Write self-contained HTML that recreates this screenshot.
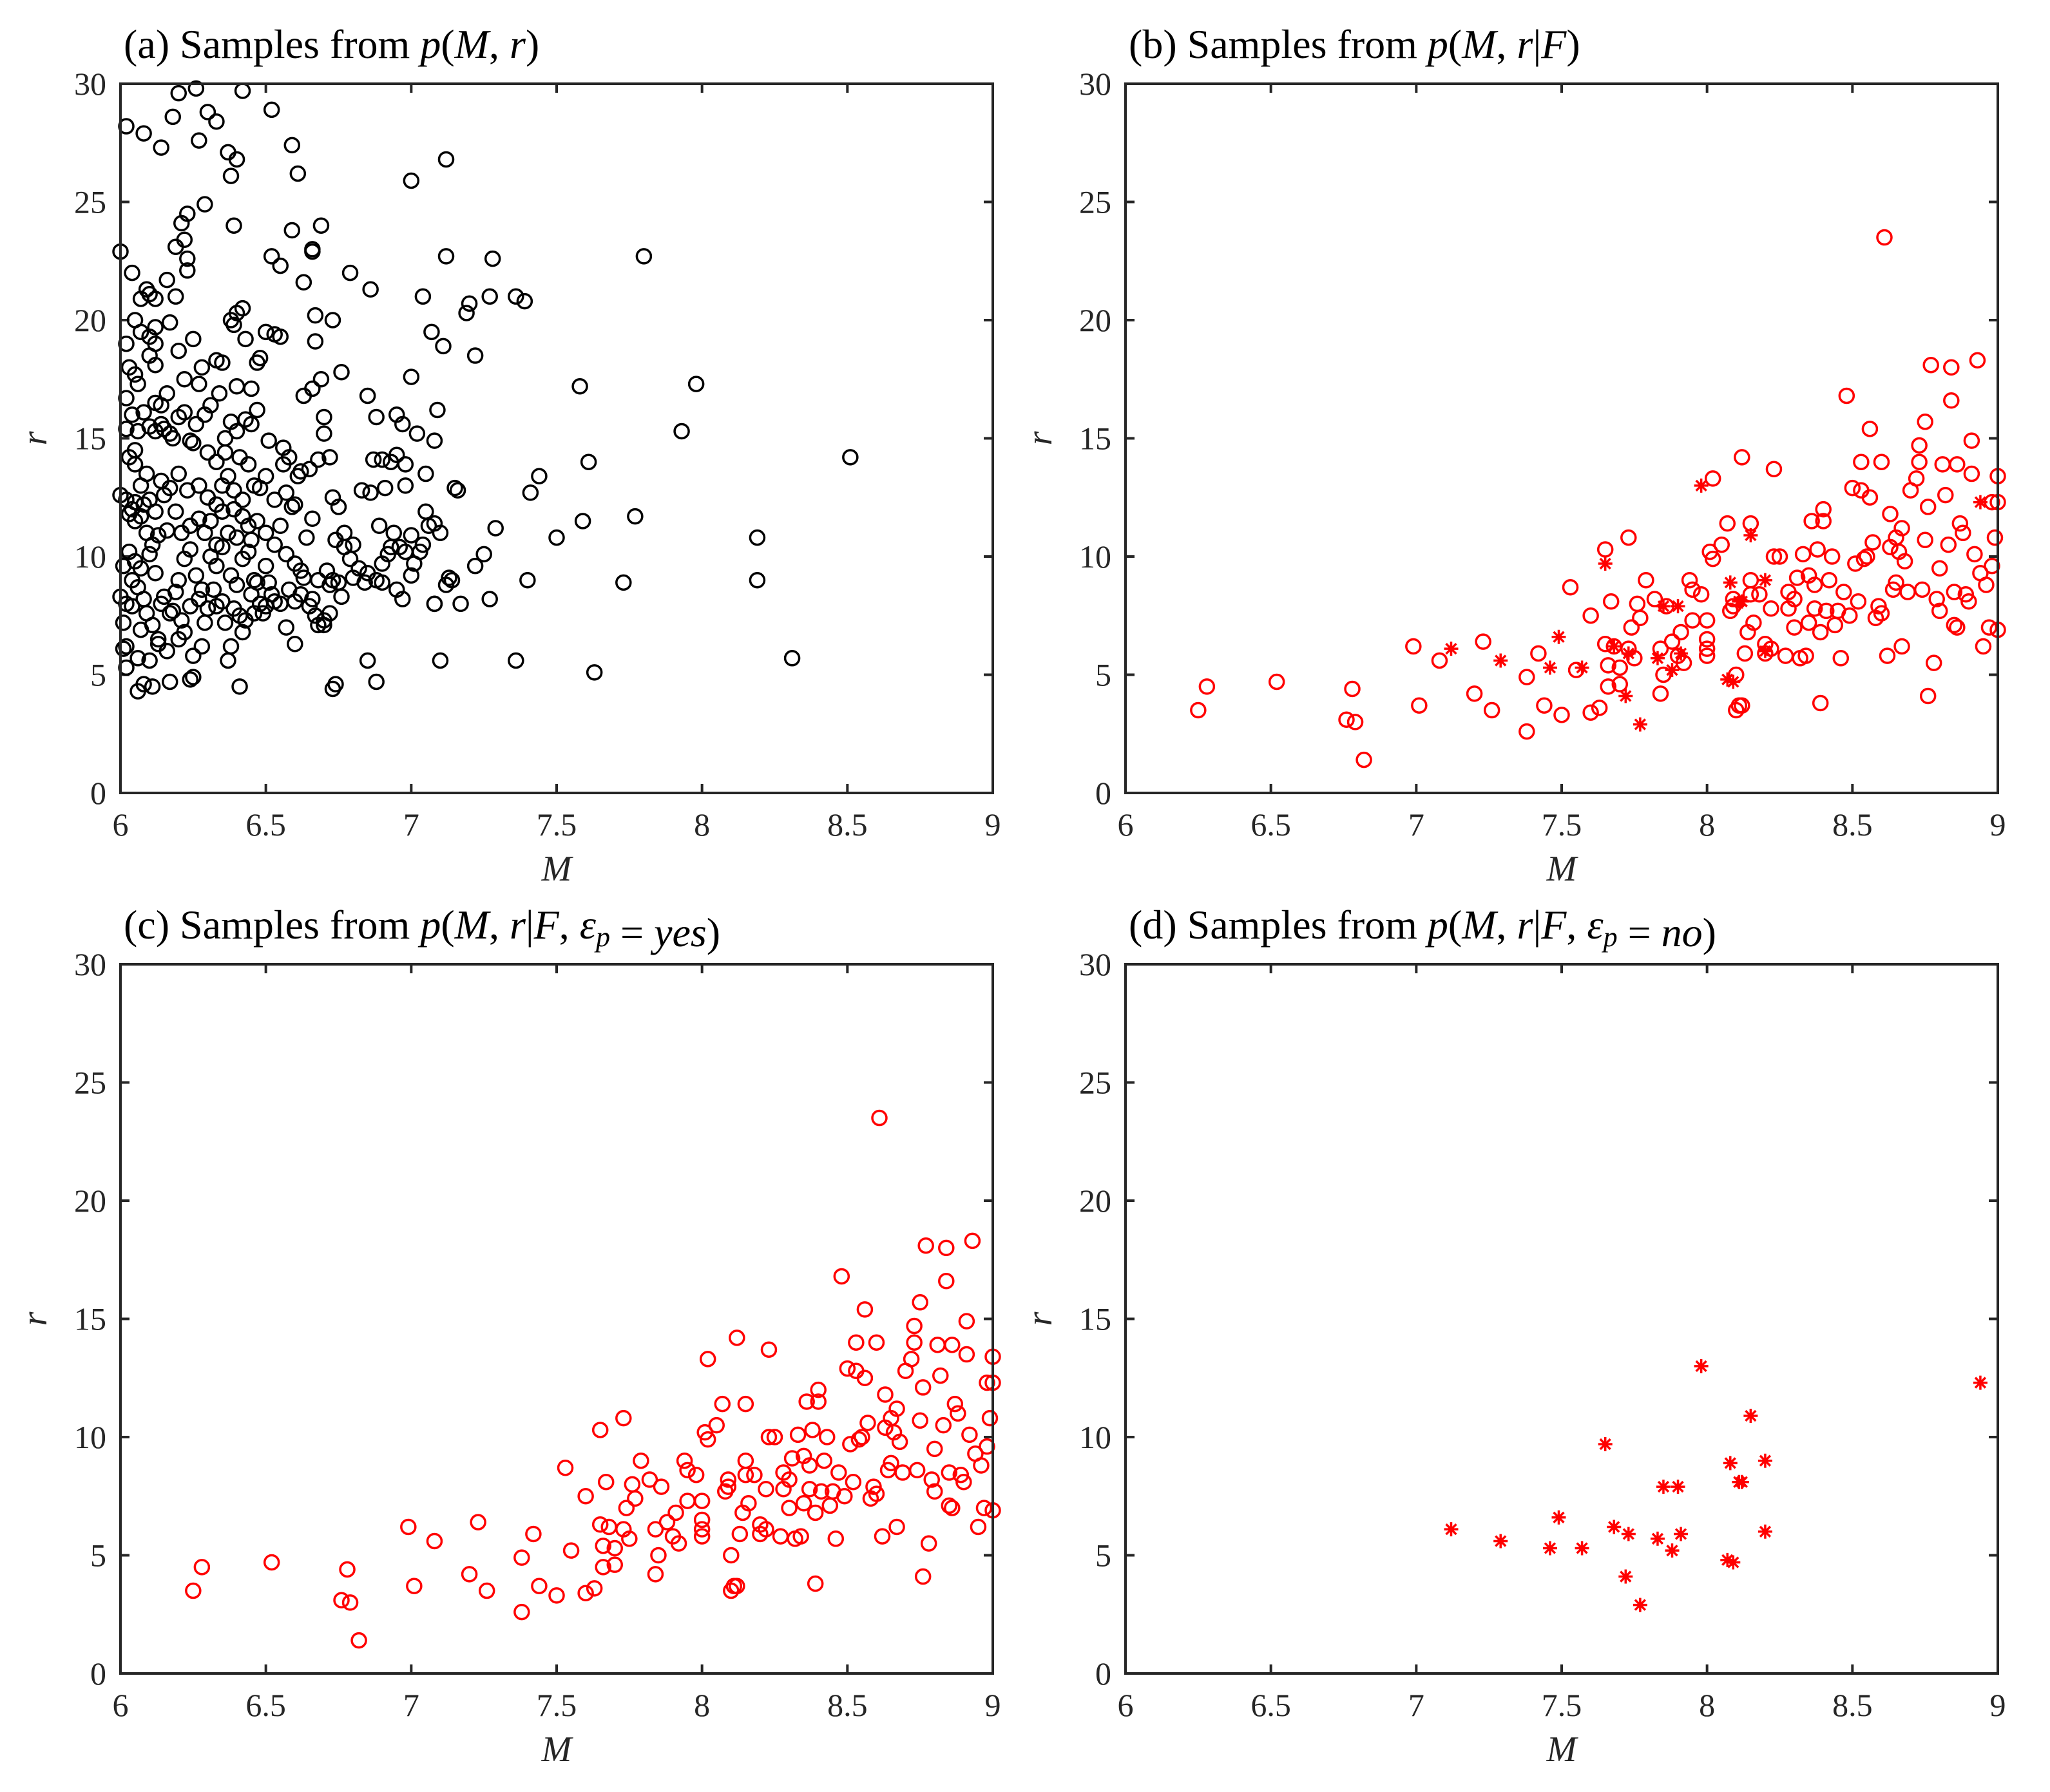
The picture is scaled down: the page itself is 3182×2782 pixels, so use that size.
<!DOCTYPE html>
<html><head><meta charset="utf-8"><style>
html,body{margin:0;padding:0;background:#fff;}
svg{display:block;font-family:"Liberation Serif",serif;}
</style></head><body>
<svg id="fig" width="3182" height="2782" viewBox="0 0 3182 2782" xmlns="http://www.w3.org/2000/svg"></svg>
<script>
const xTicks=[6,6.5,7,7.5,8,8.5,9];
const yTicks=[0,5,10,15,20,25,30];
const xTickLabels=["6","6.5","7","7.5","8","8.5","9"];
const yTickLabels=["0","5","10","15","20","25","30"];
const priorM=[6.0,6.02,6.08,6.14,6.18,6.2,6.26,6.27,6.3,6.33,6.37,6.4,6.38,6.42,6.52,6.59,6.61,7.0,7.12,6.23,6.21,6.29,6.19,6.22,6.39,6.59,6.66,6.66,6.69,6.52,6.55,6.23,6.23,6.16,6.04,6.09,6.1,6.12,6.07,6.02,6.05,6.07,6.1,6.12,6.17,6.19,6.12,6.25,6.63,6.67,6.73,6.79,6.86,7.04,7.12,7.28,7.2,7.27,7.36,7.39,7.8,7.07,7.11,7.19,7.22,6.38,6.4,6.42,6.43,6.39,6.47,6.5,6.53,6.55,6.67,6.1,6.12,6.05,6.03,6.2,6.28,6.33,6.35,6.4,6.45,6.48,6.22,6.27,6.16,6.14,6.08,6.04,6.02,6.06,6.1,6.12,6.14,6.15,6.17,6.2,6.24,6.22,6.25,6.3,6.33,6.36,6.38,6.4,6.43,6.45,6.47,6.51,6.56,6.58,6.63,6.66,6.69,6.7,6.7,6.76,6.85,6.88,6.95,6.97,7.0,7.02,7.08,7.09,6.9,6.93,6.95,6.87,6.98,7.05,7.15,7.58,7.61,7.98,7.93,8.51,7.44,7.41,7.59,7.77,6.0,6.02,6.04,6.05,6.03,6.08,6.1,6.12,6.15,6.17,6.07,6.05,6.03,6.05,6.09,6.14,6.2,6.23,6.27,6.3,6.33,6.35,6.37,6.39,6.42,6.44,6.47,6.5,6.53,6.57,6.6,6.62,6.65,6.68,6.72,6.73,6.75,6.77,6.8,6.83,6.86,6.89,6.91,6.93,6.98,7.0,7.05,7.08,7.04,7.1,7.0,7.08,7.12,7.14,7.17,7.22,7.25,7.29,7.27,7.4,7.5,7.73,8.19,8.19,8.31,7.36,7.1,7.63,6.88,6.73,6.74,6.85,6.41,6.24,6.25,6.17,6.11,6.06,6.08,6.02,6.01,6.02,6.06,6.1,6.13,6.16,6.2,6.22,6.25,6.28,6.3,6.33,6.36,6.38,6.37,6.42,6.46,6.5,6.52,6.55,6.57,6.6,6.62,6.66,6.68,6.7,6.72,6.76,6.8,6.85,6.88,6.9,6.95,6.97,7.08,6.0,6.02,6.05,6.03,6.07,6.1,6.12,6.14,6.17,6.19,6.2,6.22,6.24,6.26,6.28,6.31,6.33,6.35,6.37,6.38,6.4,6.42,6.44,6.46,6.48,6.5,6.53,6.55,6.57,6.6,6.62,6.64,6.66,6.68,6.71,6.74,6.77,6.01,6.04,6.07,6.09,6.11,6.13,6.15,6.18,6.21,6.24,6.27,6.29,6.32,6.35,6.39,6.41,6.43,6.45,6.47,6.49,6.51,6.53,6.58,6.6,6.63,6.65,6.67,6.7,6.72,6.73,6.75,6.79,6.82,6.84,6.9,6.92,6.94,6.96,6.98,7.01,7.03,7.13,7.16,7.06,6.02,6.06,6.12,6.18,6.26,6.29,6.31,6.34,6.36,6.41,6.44,6.46,6.48,6.5,6.56,6.59,6.61,6.31,6.29,6.27,6.24,6.21,6.19,6.16,6.13,6.11,6.09,6.07,6.05,6.33,6.35,6.39,6.42,6.45,6.4,6.06,6.08,6.04,6.01];
const priorR=[22.9,28.2,27.9,27.3,28.6,29.6,29.8,27.6,28.8,28.4,27.1,26.8,26.1,29.7,28.9,27.4,26.2,25.9,26.8,24.5,24.1,24.9,23.1,23.4,24.0,23.8,23.0,22.9,24.0,22.7,22.3,22.6,22.1,21.7,22.0,21.3,21.1,20.9,20.9,19.0,20.0,19.5,19.3,19.7,19.9,21.0,19.0,19.2,21.6,20.2,20.0,22.0,21.3,21.0,22.7,22.6,20.7,21.0,21.0,20.8,22.7,19.5,18.9,20.3,18.5,20.0,20.3,20.5,19.2,19.8,18.2,19.5,19.4,19.3,19.1,18.5,18.1,17.7,18.0,18.7,18.0,18.3,18.2,17.2,17.1,18.4,17.5,17.3,16.9,16.4,16.1,16.0,15.4,15.3,15.5,15.3,15.6,15.4,15.2,15.9,14.9,16.1,14.8,14.4,14.0,15.0,15.7,15.3,15.8,15.6,16.2,14.9,14.6,14.2,16.8,17.1,17.5,15.9,15.2,17.8,16.8,15.9,16.0,15.6,17.6,15.2,14.9,16.2,14.1,14.0,14.3,14.1,13.9,13.5,12.9,17.2,14.0,17.3,15.3,14.2,13.4,12.7,11.5,11.7,12.6,12.4,12.0,11.5,11.8,12.2,12.4,11.9,12.6,12.9,13.0,13.9,14.2,14.5,13.5,13.2,13.5,12.8,13.0,12.5,12.2,13.0,13.4,12.8,12.4,11.3,11.5,11.0,12.4,12.7,12.2,13.6,13.7,14.1,14.2,12.5,12.1,11.0,10.5,12.8,12.7,11.3,12.9,10.4,13.0,10.9,11.9,11.4,10.5,11.0,9.2,8.0,8.8,9.0,8.0,9.6,10.1,11.2,8.2,9.0,10.8,8.9,10.8,9.0,5.7,5.6,5.6,5.1,4.7,4.4,4.6,5.6,4.5,4.8,4.9,4.7,4.5,4.3,4.6,5.3,6.1,6.2,5.7,5.6,6.3,6.0,6.5,6.8,5.8,6.2,7.8,7.9,7.2,6.2,5.6,6.8,7.6,7.9,8.4,8.0,7.0,6.3,8.4,8.2,7.1,7.3,8.8,8.3,9.1,9.3,9.0,8.9,8.6,8.2,8.0,8.3,8.0,9.8,10.2,9.5,10.1,9.3,8.0,7.6,8.5,9.0,9.9,10.3,9.2,8.6,10.0,9.6,10.4,11.0,9.2,8.8,9.9,10.2,9.0,8.0,9.6,10.5,11.3,10.1,9.7,9.4,10.8,11.6,9.0,9.4,10.7,10.4,7.2,7.9,6.9,7.6,7.1,6.5,8.3,7.7,7.3,7.9,8.2,7.2,8.6,8.1,7.8,7.5,7.3,8.4,8.9,7.6,8.9,8.1,8.6,8.1,9.1,7.9,7.5,7.1,7.6,9.0,8.9,9.9,9.5,8.9,9.7,10.1,11.0,10.4,10.2,9.7,10.2,9.1,12.8,11.3,16.7,17.3,16.5,15.0,15.6,16.0,16.4,16.9,14.4,14.2,13.9,13.0,12.9,13.4,13.9,12.1,13.4,11.5,11.0,11.6,11.3,11.0,11.9,11.1,10.9,10.5,11.0,11.7,12.3,10.5,11.9,12.0,11.7,10.7,10.8,8.7,8.2,9.0,9.6];
const yesM=[6.25,6.28,6.52,6.76,6.78,6.79,6.82,6.99,7.01,7.08,7.2,7.23,7.26,7.38,7.38,7.42,7.44,7.5,7.53,7.55,7.6,7.6,7.63,7.65,7.65,7.66,7.66,7.67,7.68,7.7,7.7,7.73,7.73,7.74,7.75,7.76,7.77,7.79,7.82,7.84,7.84,7.85,7.86,7.88,7.9,7.91,7.92,7.94,7.95,7.95,7.98,8.0,8.0,8.0,8.0,8.01,8.02,8.02,8.05,8.07,8.08,8.09,8.09,8.1,8.1,8.11,8.12,8.12,8.13,8.14,8.15,8.15,8.15,8.16,8.18,8.2,8.2,8.22,8.22,8.23,8.23,8.25,8.27,8.28,8.28,8.3,8.3,8.31,8.32,8.33,8.34,8.35,8.35,8.36,8.37,8.37,8.38,8.39,8.39,8.4,8.4,8.41,8.42,8.43,8.44,8.45,8.46,8.47,8.48,8.49,8.5,8.51,8.52,8.53,8.53,8.54,8.55,8.56,8.56,8.57,8.58,8.59,8.6,8.6,8.61,8.62,8.63,8.63,8.64,8.65,8.65,8.66,8.67,8.67,8.68,8.69,8.7,8.72,8.73,8.73,8.74,8.75,8.75,8.76,8.76,8.77,8.78,8.79,8.8,8.8,8.81,8.82,8.83,8.84,8.84,8.85,8.85,8.86,8.86,8.87,8.88,8.89,8.9,8.91,8.91,8.92,8.93,8.94,8.95,8.96,8.97,8.98,8.98,8.99,9.0,9.0,9.0];
const yesR=[3.5,4.5,4.7,3.1,4.4,3.0,1.4,6.2,3.7,5.6,4.2,6.4,3.5,2.6,4.9,5.9,3.7,3.3,8.7,5.2,3.4,7.5,3.6,10.3,6.3,5.4,4.5,8.1,6.2,5.3,4.6,10.8,6.1,7.0,5.7,8.0,7.4,9.0,8.2,6.1,4.2,5.0,7.9,6.4,5.8,6.8,5.5,9.0,8.6,7.3,8.4,5.8,6.1,7.3,6.5,10.2,9.9,13.3,10.5,11.4,7.7,8.2,7.9,5.0,3.5,3.7,3.7,14.2,5.9,6.8,8.4,9.0,11.4,7.2,8.4,5.9,6.3,6.1,7.8,13.7,10.0,10.0,5.8,8.5,7.8,8.2,7.0,9.1,5.7,10.1,5.8,9.2,7.2,11.5,8.8,7.8,10.3,6.8,3.8,12.0,11.5,7.7,9.0,10.0,7.1,7.7,5.7,8.5,16.8,7.5,12.9,9.7,8.1,12.8,14.0,9.9,10.0,15.4,12.5,10.6,7.4,7.9,14.0,7.6,23.5,5.8,10.4,11.8,8.6,10.8,8.9,10.2,6.2,11.2,9.8,8.5,12.8,13.3,14.0,14.7,8.6,15.7,10.7,12.1,4.1,18.1,5.5,8.2,7.7,9.5,13.9,12.6,10.5,18.0,16.6,8.5,7.1,13.9,7.0,11.4,11.0,8.4,8.1,13.5,14.9,10.1,18.3,9.3,6.2,8.8,7.0,12.3,9.6,10.8,13.4,6.9,12.3];
const noM=[7.12,7.29,7.46,7.49,7.57,7.65,7.68,7.72,7.73,7.77,7.83,7.85,7.88,7.9,7.91,7.98,8.07,8.09,8.08,8.11,8.12,8.15,8.2,8.2,8.94];
const noR=[6.1,5.6,5.3,6.6,5.3,9.7,6.2,4.1,5.9,2.9,5.7,7.9,5.2,7.9,5.9,13.0,4.8,4.7,8.9,8.1,8.1,10.9,9.0,6.0,12.3];

const NS="http://www.w3.org/2000/svg";
const svg=document.getElementById('fig');
function mk(tag,attrs,parent){const e=document.createElementNS(NS,tag);for(const k in attrs)e.setAttribute(k,attrs[k]);(parent||svg).appendChild(e);return e;}

const W=1354,H=1101;
const panels=[
 {x0:187,y0:130,id:'a',title:[['(a) Samples from ',''],['p','i'],['(',''],['M','i'],[', ',''],['r','i'],[')','']]},
 {x0:1747,y0:130,id:'b',title:[['(b) Samples from ',''],['p','i'],['(',''],['M','i'],[', ',''],['r','i'],['|',''],['F','i'],[')','']]},
 {x0:187,y0:1497,id:'c',title:[['(c) Samples from ',''],['p','i'],['(',''],['M','i'],[', ',''],['r','i'],['|',''],['F','i'],[', ',''],['ε','i'],['p','s'],[' = ',''],['yes','i'],[')','']]},
 {x0:1747,y0:1497,id:'d',title:[['(d) Samples from ',''],['p','i'],['(',''],['M','i'],[', ',''],['r','i'],['|',''],['F','i'],[', ',''],['ε','i'],['p','s'],[' = ',''],['no','i'],[')','']]}
];

function drawCircles(g,P,ms,rs,color,name){
  for(let i=0;i<ms.length;i++){
    const c=mk('circle',{cx:P.sx(ms[i]),cy:P.sy(rs[i]),r:11,fill:'none',stroke:color,'stroke-width':3.5},g);
    
    
  }
}
function drawStars(g,P,ms,rs,color,name){
  for(let i=0;i<ms.length;i++){
    const x=P.sx(ms[i]),y=P.sy(rs[i]),s=11;
    const st=mk('path',{d:`M${x-s} ${y}H${x+s}M${x} ${y-s}V${y+s}M${x-s*0.72} ${y-s*0.72}L${x+s*0.72} ${y+s*0.72}M${x-s*0.72} ${y+s*0.72}L${x+s*0.72} ${y-s*0.72}`,stroke:color,'stroke-width':3.5,fill:'none'},g);
    
    
  }
}

panels.forEach(p=>{
  const g=mk('g',{});
  
  
  const P={sx:v=>p.x0+(v-6)/3*W, sy:v=>p.y0+H-(v/30)*H};
  xTicks.forEach((t,i)=>{
    const x=P.sx(t);
    mk('line',{x1:x,x2:x,y1:p.y0+H,y2:p.y0+H-14,stroke:'#262626','stroke-width':4},g);
    mk('line',{x1:x,x2:x,y1:p.y0,y2:p.y0+14,stroke:'#262626','stroke-width':4},g);
    const tx=mk('text',{x:x,y:p.y0+H+66,'text-anchor':'middle','font-size':50,fill:'#262626'},g);
    tx.textContent=xTickLabels[i];
    
    
  });
  yTicks.forEach((t,i)=>{
    const y=P.sy(t);
    mk('line',{x1:p.x0,x2:p.x0+14,y1:y,y2:y,stroke:'#262626','stroke-width':4},g);
    mk('line',{x1:p.x0+W,x2:p.x0+W-14,y1:y,y2:y,stroke:'#262626','stroke-width':4},g);
    const ty=mk('text',{x:p.x0-22,y:y+17,'text-anchor':'end','font-size':50,fill:'#262626'},g);
    ty.textContent=yTickLabels[i];
    
    
  });
  if(p.id==='a') drawCircles(g,P,priorM,priorR,'#000','prior-sample');
  if(p.id==='b'||p.id==='c') drawCircles(g,P,yesM,yesR,'#ff0000','yes-sample');
  if(p.id==='b'||p.id==='d') drawStars(g,P,noM,noR,'#ff0000','no-sample');
  const fr=mk('rect',{x:p.x0,y:p.y0,width:W,height:H,fill:'none',stroke:'#262626','stroke-width':4},g);
  
  
  const xl=mk('text',{x:p.x0+W/2,y:p.y0+H+136,'text-anchor':'middle','font-size':56,'font-style':'italic',fill:'#262626'},g);
  xl.textContent='M';
  
  
  const yl=mk('text',{x:0,y:0,'text-anchor':'middle','font-size':56,'font-style':'italic',fill:'#262626',transform:`translate(${p.x0-115},${p.y0+H/2}) rotate(-90)`},g);
  yl.textContent='r';
  
  
  const tt=mk('text',{x:p.x0+5,y:p.y0-40,'font-size':64,fill:'#000'},g);
  
  
  p.title.forEach(([s,st])=>{
    const sp=mk('tspan',{},tt);
    if(st==='i')sp.setAttribute('font-style','italic');
    if(st==='s'){sp.setAttribute('font-style','italic');sp.setAttribute('font-size','44');sp.setAttribute('dy','12');}
    sp.textContent=s;
    if(st==='s'){const z=mk('tspan',{dy:'-12'},tt);z.textContent='';}
  });
});
</script>
</body></html>
